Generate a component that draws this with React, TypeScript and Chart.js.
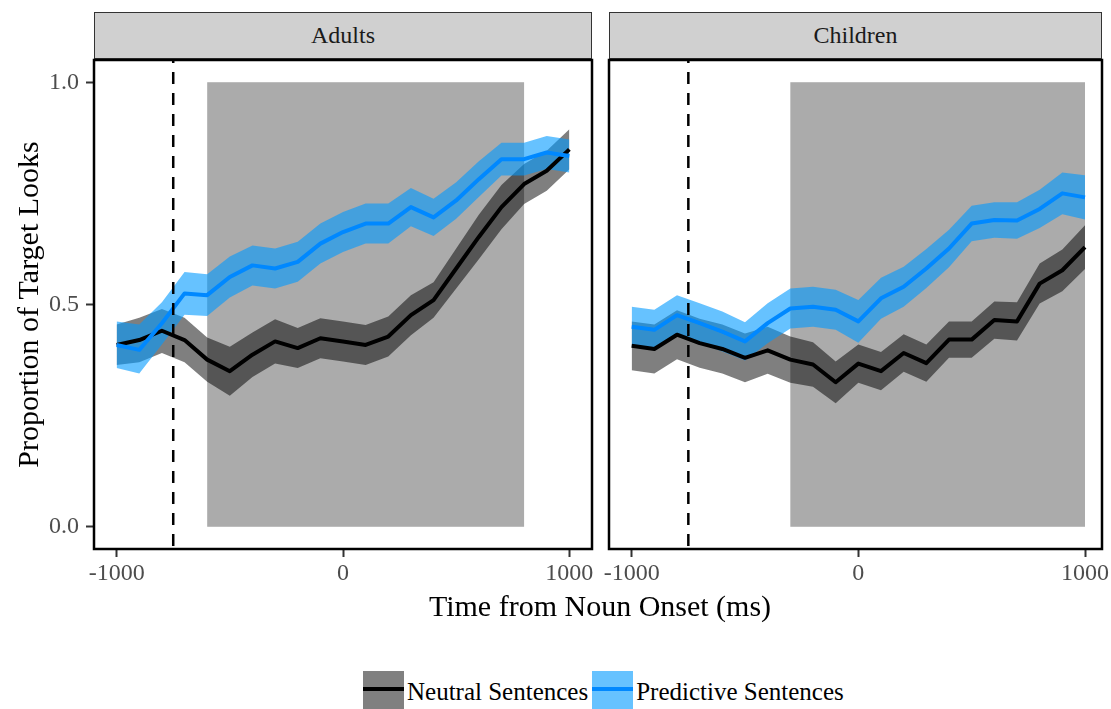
import React, { useEffect, useRef } from 'react';
import { Chart, registerables } from 'chart.js';

Chart.register(...registerables);

// ---------- data ----------
const times = [-1000, -900, -800, -700, -600, -500, -400, -300, -200, -100, 0, 100, 200, 300, 400, 500, 600, 700, 800, 900, 1000];

const adultsNeutralMean = [0.409, 0.42, 0.441, 0.42, 0.376, 0.35, 0.387, 0.417, 0.402, 0.424, 0.417, 0.409, 0.428, 0.476, 0.51, 0.581, 0.652, 0.719, 0.771, 0.801, 0.849];
const adultsNeutralUpper = [0.455, 0.47, 0.49, 0.47, 0.426, 0.405, 0.437, 0.467, 0.447, 0.469, 0.462, 0.454, 0.473, 0.521, 0.55, 0.626, 0.702, 0.769, 0.816, 0.846, 0.894];
const adultsNeutralLower = [0.364, 0.37, 0.391, 0.37, 0.326, 0.295, 0.337, 0.367, 0.357, 0.379, 0.372, 0.364, 0.383, 0.431, 0.47, 0.536, 0.602, 0.669, 0.726, 0.756, 0.804];

const adultsPredictiveMean = [0.409, 0.398, 0.458, 0.525, 0.521, 0.562, 0.588, 0.581, 0.596, 0.637, 0.663, 0.682, 0.682, 0.719, 0.696, 0.734, 0.782, 0.827, 0.827, 0.842, 0.834];
const adultsPredictiveUpper = [0.462, 0.455, 0.505, 0.573, 0.568, 0.608, 0.633, 0.626, 0.641, 0.682, 0.708, 0.727, 0.727, 0.762, 0.738, 0.775, 0.822, 0.864, 0.864, 0.879, 0.871];
const adultsPredictiveLower = [0.357, 0.345, 0.41, 0.477, 0.474, 0.516, 0.543, 0.536, 0.551, 0.592, 0.618, 0.637, 0.637, 0.676, 0.654, 0.693, 0.742, 0.79, 0.79, 0.805, 0.797];

const childrenNeutralMean = [0.407, 0.4, 0.432, 0.413, 0.4, 0.38, 0.397, 0.376, 0.365, 0.325, 0.367, 0.35, 0.391, 0.368, 0.421, 0.421, 0.465, 0.462, 0.547, 0.577, 0.629];
const childrenNeutralUpper = [0.462, 0.455, 0.487, 0.468, 0.455, 0.435, 0.45, 0.428, 0.415, 0.372, 0.41, 0.393, 0.433, 0.41, 0.462, 0.462, 0.507, 0.505, 0.592, 0.624, 0.678];
const childrenNeutralLower = [0.352, 0.345, 0.377, 0.358, 0.345, 0.325, 0.344, 0.324, 0.315, 0.278, 0.324, 0.307, 0.349, 0.326, 0.38, 0.38, 0.423, 0.419, 0.502, 0.53, 0.58];

const childrenPredictiveMean = [0.45, 0.443, 0.476, 0.458, 0.439, 0.417, 0.458, 0.491, 0.495, 0.488, 0.462, 0.514, 0.54, 0.581, 0.626, 0.682, 0.69, 0.689, 0.715, 0.75, 0.741];
const childrenPredictiveUpper = [0.495, 0.488, 0.521, 0.503, 0.484, 0.46, 0.503, 0.536, 0.54, 0.533, 0.51, 0.56, 0.585, 0.625, 0.668, 0.722, 0.73, 0.73, 0.758, 0.797, 0.791];
const childrenPredictiveLower = [0.405, 0.398, 0.431, 0.413, 0.394, 0.374, 0.413, 0.446, 0.45, 0.443, 0.414, 0.468, 0.495, 0.537, 0.584, 0.642, 0.65, 0.648, 0.672, 0.703, 0.691];

const adultsShaded = [-600, 800];
const childrenShaded = [-300, 1000];
const onsetLine = -750;
const shadedYRange = [0, 1];

const adultsXRange = [-1100, 1100];
const childrenXRange = [-1100, 1075];
const yRange = [-0.05, 1.05];
const xTicks = [-1000, 0, 1000];
const yTicks = [0, 0.5, 1.0];
const panelTitles = ['Adults', 'Children'];
const seriesNames = ['Neutral Sentences', 'Predictive Sentences'];

// ---------- styles ----------
const FONT = "'Liberation Serif', 'DejaVu Serif', serif";
const NEUTRAL_LINE = '#000000';
const NEUTRAL_RIBBON = 'rgba(0,0,0,0.5)';
const PRED_LINE = '#0088ff';
const PRED_RIBBON = 'rgba(0,153,255,0.6)';
const SHADE = '#ababab';

type PanelProps = {
  nMean: number[]; nUp: number[]; nLo: number[];
  pMean: number[]; pUp: number[]; pLo: number[];
  shaded: number[];
  xRange: number[];
  showY: boolean;
  left: number; width: number;
};

const pts = (arr: number[]) => arr.map((v, i) => ({ x: times[i], y: v }));

function zeroPad(s: any) {
  s.paddingTop = 0;
  s.paddingBottom = 0;
  s.paddingLeft = 0;
  s.paddingRight = 0;
}

function Panel(props: PanelProps) {
  const ref = useRef<HTMLCanvasElement | null>(null);
  useEffect(() => {
    const canvas = ref.current;
    if (!canvas) return;
    const decor = {
      id: 'decor',
      beforeDatasetsDraw(chart: any) {
        const { ctx, scales } = chart;
        const x = scales.x, y = scales.y;
        ctx.save();
        ctx.fillStyle = SHADE;
        const x0 = x.getPixelForValue(props.shaded[0]);
        const x1 = x.getPixelForValue(props.shaded[1]);
        const y0 = y.getPixelForValue(shadedYRange[1]);
        const y1 = y.getPixelForValue(shadedYRange[0]);
        ctx.fillRect(x0, y0, x1 - x0, y1 - y0);
        ctx.restore();
      },
      afterDatasetsDraw(chart: any) {
        const { ctx, scales, chartArea } = chart;
        const xv = scales.x.getPixelForValue(onsetLine);
        ctx.save();
        ctx.strokeStyle = '#000';
        ctx.lineWidth = 2.5;
        ctx.setLineDash([12, 9]);
        ctx.lineDashOffset = -12;
        ctx.beginPath();
        ctx.moveTo(xv, chartArea.top);
        ctx.lineTo(xv, chartArea.bottom);
        ctx.stroke();
        ctx.restore();
      },
      afterDraw(chart: any) {
        const { ctx, chartArea } = chart;
        ctx.save();
        ctx.strokeStyle = '#000';
        ctx.lineWidth = 2.5;
        ctx.strokeRect(chartArea.left, chartArea.top, chartArea.right - chartArea.left, chartArea.bottom - chartArea.top);
        ctx.restore();
      },
    };
    const ribbonBase = { pointRadius: 0, borderWidth: 0, tension: 0 };
    const chart = new Chart(canvas, {
      type: 'line',
      data: {
        datasets: [
          { ...ribbonBase, label: 'nUp', data: pts(props.nUp), fill: 1, backgroundColor: NEUTRAL_RIBBON, borderColor: 'transparent', order: 6 },
          { ...ribbonBase, label: 'nLo', data: pts(props.nLo), fill: false, borderColor: 'transparent', order: 5 },
          { ...ribbonBase, label: 'pUp', data: pts(props.pUp), fill: 3, backgroundColor: PRED_RIBBON, borderColor: 'transparent', order: 4 },
          { ...ribbonBase, label: 'pLo', data: pts(props.pLo), fill: false, borderColor: 'transparent', order: 3 },
          { label: seriesNames[0], data: pts(props.nMean), borderColor: NEUTRAL_LINE, borderWidth: 4, pointRadius: 0, fill: false, tension: 0, order: 2, borderJoinStyle: 'round' },
          { label: seriesNames[1], data: pts(props.pMean), borderColor: PRED_LINE, borderWidth: 4, pointRadius: 0, fill: false, tension: 0, order: 1, borderJoinStyle: 'round' },
        ] as any,
      },
      options: {
        animation: false,
        responsive: false,
        devicePixelRatio: 1,
        events: [],
        layout: { padding: { left: props.showY ? 0 : 13, right: props.showY ? 8 : 9, top: 2, bottom: 0 } },
        plugins: {
          legend: { display: false },
          tooltip: { enabled: false },
          filler: { propagate: false },
        },
        scales: {
          x: {
            type: 'linear',
            min: props.xRange[0],
            max: props.xRange[1],
            afterBuildTicks: (s: any) => { s.ticks = xTicks.map((v) => ({ value: v })); },
            afterFit: (s: any) => { s.height = 69; zeroPad(s); },
            ticks: {
              autoSkip: false,
              maxRotation: 0,
              padding: 2,
              color: '#4d4d4d',
              font: { family: FONT, size: 24 },
              callback: (v: any) => String(v),
            },
            grid: { drawOnChartArea: false, drawTicks: true, tickLength: 8, tickColor: '#333', tickWidth: 2 },
            border: { display: false },
          },
          y: {
            type: 'linear',
            display: props.showY,
            min: yRange[0],
            max: yRange[1],
            afterBuildTicks: (s: any) => { s.ticks = yTicks.map((v) => ({ value: v })); },
            afterFit: (s: any) => { s.width = props.showY ? 94 : 0; zeroPad(s); },
            ticks: {
              autoSkip: false,
              padding: 7,
              color: '#4d4d4d',
              font: { family: FONT, size: 24 },
              callback: (v: any) => Number(v).toFixed(1),
            },
            grid: { drawOnChartArea: false, drawTicks: true, tickLength: 8, tickColor: '#333', tickWidth: 2 },
            border: { display: false },
            title: {
              display: true,
              text: 'Proportion of Target Looks',
              color: '#000',
              font: { family: FONT, size: 30 },
              padding: { top: 12, bottom: 0 },
            },
          },
        },
      } as any,
      plugins: [decor],
    });
    return () => chart.destroy();
  }, []);
  return (
    <canvas
      ref={ref}
      width={props.width}
      height={560}
      style={{ position: 'absolute', left: props.left, top: 58, width: props.width, height: 560 }}
    />
  );
}

function Strip({ text, left, width }: { text: string; left: number; width: number }) {
  return (
    <div
      style={{
        position: 'absolute', left, top: 12, width, height: 47, boxSizing: 'border-box',
        background: '#d0d0d0', border: '1px solid #333', fontFamily: FONT, fontSize: 24,
        color: '#1a1a1a', display: 'flex', alignItems: 'center', justifyContent: 'center',
      }}
    >
      {text}
    </div>
  );
}

function LegendKey({ bg, line }: { bg: string; line: string }) {
  return (
    <div style={{ position: 'relative', width: 41, height: 41, background: bg, flex: '0 0 auto' }}>
      <div style={{ position: 'absolute', left: 0, right: 0, top: 16, height: 4, background: line }} />
    </div>
  );
}

export default function App() {
  return (
    <div style={{ position: 'absolute', left: 0, top: 0, width: 1111, height: 709, background: '#fff', overflow: 'hidden' }}>
      <Strip text={panelTitles[0]} left={94} width={498} />
      <Strip text={panelTitles[1]} left={609} width={493} />
      <Panel
        nMean={adultsNeutralMean} nUp={adultsNeutralUpper} nLo={adultsNeutralLower}
        pMean={adultsPredictiveMean} pUp={adultsPredictiveUpper} pLo={adultsPredictiveLower}
        shaded={adultsShaded} xRange={adultsXRange} showY={true} left={0} width={600}
      />
      <Panel
        nMean={childrenNeutralMean} nUp={childrenNeutralUpper} nLo={childrenNeutralLower}
        pMean={childrenPredictiveMean} pUp={childrenPredictiveUpper} pLo={childrenPredictiveLower}
        shaded={childrenShaded} xRange={childrenXRange} showY={false} left={596} width={515}
      />
      <div
        style={{
          position: 'absolute', left: 300, top: 588, width: 600, textAlign: 'center',
          fontFamily: FONT, fontSize: 30, lineHeight: '36px', color: '#000',
        }}
      >
        Time from Noun Onset (ms)
      </div>
      <div style={{ position: 'absolute', left: 363, top: 671, display: 'flex', alignItems: 'center', height: 41 }}>
        <LegendKey bg="#808080" line={NEUTRAL_LINE} />
        <span style={{ fontFamily: FONT, fontSize: 25, color: '#000', margin: '0 4px 0 3px', whiteSpace: 'nowrap' }}>{seriesNames[0]}</span>
        <LegendKey bg="#66c2ff" line={PRED_LINE} />
        <span style={{ fontFamily: FONT, fontSize: 25, color: '#000', marginLeft: 3, whiteSpace: 'nowrap' }}>{seriesNames[1]}</span>
      </div>
    </div>
  );
}
